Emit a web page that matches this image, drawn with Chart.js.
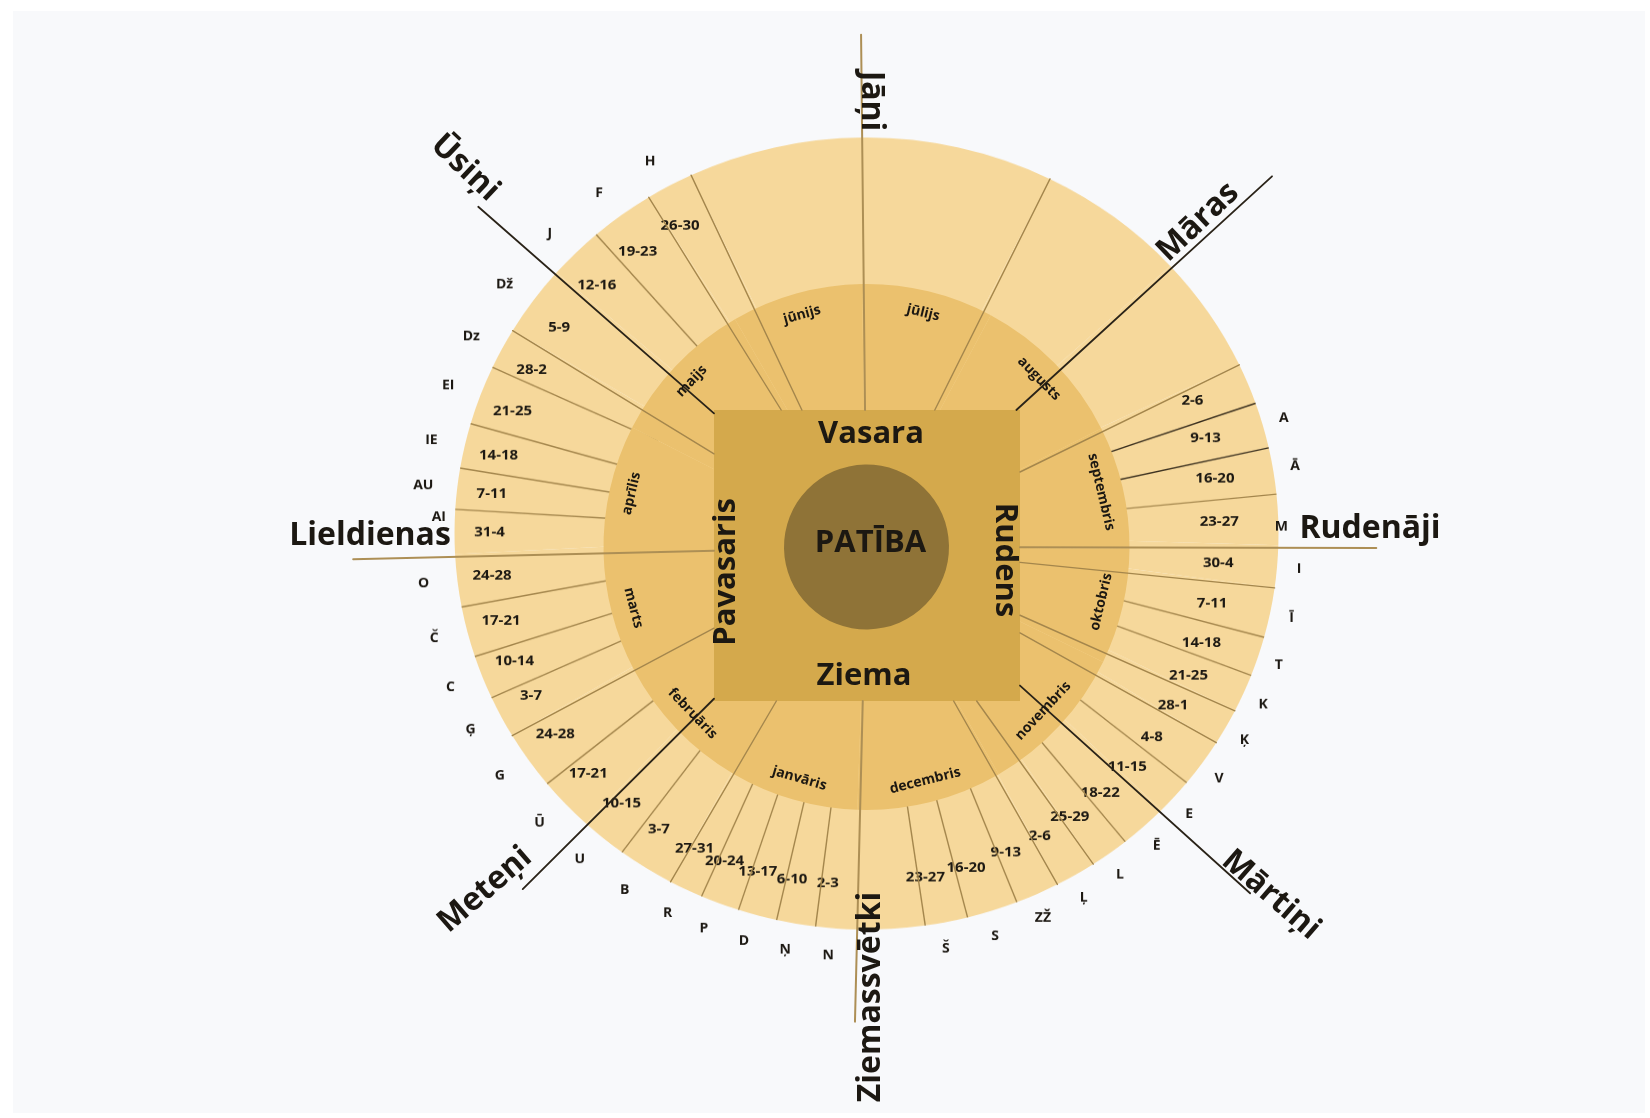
<!DOCTYPE html>
<html>
<head>
<meta charset="utf-8">
<script src="https://cdn.jsdelivr.net/npm/chart.js"></script>
<style>
  html, body { margin: 0; padding: 0; background: #ffffff; }
  body { width: 1650px; height: 1118px; position: relative; overflow: hidden; }
  #bg { position: absolute; left: 13px; top: 11px; width: 1632px; height: 1102px; background: #f8f9fb; }
  #outer { position: absolute; left: 0; top: 0; width: 1650px; height: 1163px; transform: scaleY(0.9612); transform-origin: 0 0; }
  #inner { position: absolute; left: 0; top: 0; width: 1650px; height: 1118px; }
</style>
</head>
<body>
<div id="bg"></div>
<canvas id="outer" width="1650" height="1163"></canvas>
<canvas id="inner" width="1650" height="1118"></canvas>
<script>
// outer ring: week slices, size in degrees, clockwise from the Jāņi line
const weekLabels = ['', '', '', '2-6', '9-13', '16-20', '23-27', '30-4', '7-11', '14-18', '21-25', '28-1',
  '4-8', '11-15', '18-22', '25-29', '2-6', '9-13', '16-20', '23-27', '', '2-3', '6-10', '13-17', '20-24', '27-31',
  '3-7', '10-15', '17-21', '24-28', '3-7', '10-14', '17-21', '24-28', '31-4', '7-11', '14-18', '21-25',
  '28-2', '5-9', '12-16', '19-23', '26-30', ''];
const weekSpans = [27.05, 21.05, 17.3, 6.0, 6.7, 6.8, 7.4, 6.2, 7.3, 5.8, 5.6, 5.3,
  7.1, 5.3, 6.8, 5.5, 5.8, 6.2, 7.2, 6.0, 9.5, 5.8, 5.5, 5.5, 5.5, 4.8,
  8.0, 6.5, 7.9, 8.5, 6.2, 6.4, 7.4, 7.7, 6.5, 6.0, 6.6, 8.7,
  6.0, 10.4, 7.8, 9.1, 6.7, 24.6];
const weekLetters = ['', '', '', '', 'A', 'Ā', 'M', 'I', 'Ī', 'T', 'K', 'Ķ',
  'V', 'E', 'Ē', 'L', 'Ļ', 'ZŽ', 'S', 'Š', '', 'N', 'Ņ', 'D', 'P', 'R',
  'B', 'U', 'Ū', 'G', 'Ģ', 'C', 'Č', 'O', 'AI', 'AU', 'IE', 'EI',
  'Dz', 'Dž', 'J', 'F', 'H', ''];

// middle ring: months, size in degrees, clockwise from the Jāņi line
const months = ['jūlijs', 'augusts', 'septembris', 'oktobris', 'novembris', 'decembris',
  'janvāris', 'februāris', 'marts', 'aprīlis', 'maijs', 'jūnijs'];
const monthSpans = [29.2, 35.0, 27.2, 25.5, 33.9, 32.2, 28.35, 31.75, 26.6, 28.3, 33.0, 29.0];

// feasts sit on the start edge of these week slices
const holidays = ['Jāņi', 'Māras', 'Rudenāji', 'Mārtiņi', 'Ziemassvētki', 'Meteņi', 'Lieldienas', 'Ūsiņi'];
const holidayWeek = [0, 2, 7, 14, 21, 28, 34, 40];
// week edges that run in from the square
const longEdgeWeek = [1, 3, 8, 11, 12, 16, 17, 26, 30, 39, 42, 43];
const darkEdgeWeek = [4, 5];

const seasons = ['Vasara', 'Rudens', 'Ziema', 'Pavasaris'];
const centerLabel = 'PATĪBA';

// look
const SQ = 0.9612; // outer ring is a little flattened
const textColor = '#1c1812';
const lineColor = '#a4864c';
const box = { l: 714, r: 1020, t: 410, b: 701 };
// letters pushed aside so they clear the feast names
const letterNudge = { 6: { r: 421, da: 1 }, 34: { r: 422, da: 2 } };
const holidayLayout = [
  { len: 519, dark: false, x: 862, y: 101, rot: 90, base: 'alphabetic' },
  { len: 550, dark: true, x: 1198, y: 222, rot: -43.5, base: 'middle' },
  { len: 510, dark: false, x: 1370, y: 538, rot: 0, base: 'alphabetic' },
  { len: 536, dark: true, x: 1271, y: 895, rot: 41, base: 'middle' },
  { len: 508, dark: false, x: 880, y: 997, rot: -90, base: 'alphabetic' },
  { len: 505, dark: true, x: 485, y: 890, rot: -41, base: 'middle' },
  { len: 514, dark: false, x: 370, y: 545, rot: 0, base: 'alphabetic' },
  { len: 516, dark: true, x: 465, y: 168, rot: 43.5, base: 'middle' }
];
const seasonLayout = [
  { x: 871, y: 434, rot: 0 },
  { x: 1005, y: 560, rot: 90 },
  { x: 864, y: 676, rot: 0 },
  { x: 726, y: 572, rot: -90 }
];

function drawText(ctx, text, x, y, rotDeg, font, baseline) {
  ctx.save();
  ctx.translate(x, y);
  ctx.rotate(rotDeg * Math.PI / 180);
  ctx.font = font;
  ctx.fillStyle = textColor;
  ctx.textAlign = 'center';
  ctx.textBaseline = baseline || 'middle';
  ctx.fillText(text, 0, 0);
  ctx.restore();
}

const weekPlugin = {
  id: 'weekPlugin',
  afterDatasetsDraw(chart) {
    const ctx = chart.ctx;
    const arcs = chart.getDatasetMeta(0).data;
    ctx.save();
    arcs.forEach((arc, i) => {
      const a = arc.startAngle;
      const R = arc.outerRadius;
      if (!holidayWeek.includes(i) && !longEdgeWeek.includes(i)) {
        ctx.strokeStyle = darkEdgeWeek.includes(i) ? '#3a2f1e' : lineColor;
        ctx.lineWidth = 1.4;
        ctx.beginPath();
        ctx.moveTo(arc.x + 230 * Math.cos(a), arc.y + 230 * Math.sin(a));
        ctx.lineTo(arc.x + R * Math.cos(a), arc.y + R * Math.sin(a));
        ctx.stroke();
      }
      const mid = (arc.startAngle + arc.endAngle) / 2;
      if (weekLabels[i]) {
        drawText(ctx, weekLabels[i], arc.x - 12 + 365 * Math.cos(mid), arc.y + 365 * Math.sin(mid), 0, '700 15px "Open Sans"');
      }
      if (weekLetters[i]) {
        const nudge = letterNudge[i] || { r: 440, da: 0 };
        const la = mid + nudge.da * Math.PI / 180;
        drawText(ctx, weekLetters[i], arc.x - 6 + nudge.r * Math.cos(la), arc.y + nudge.r * Math.sin(la), 0, '700 14px "Open Sans"');
      }
    });
    ctx.restore();
  }
};

const outerChart = new Chart(document.getElementById('outer'), {
  type: 'doughnut',
  data: {
    labels: weekLabels,
    datasets: [{
      data: weekSpans,
      backgroundColor: '#f6d89b',
      borderWidth: 0,
      hoverOffset: 0
    }]
  },
  options: {
    responsive: false,
    animation: false,
    events: [],
    cutout: 0,
    rotation: -0.6,
    layout: { padding: { left: 454.5, right: 371.5, top: 143, bottom: 196 } },
    plugins: { legend: { display: false }, tooltip: { enabled: false } }
  },
  plugins: [weekPlugin]
});

// page point on a week edge of the (flattened) outer ring
function outerPoint(i, r) {
  const arc = outerChart.getDatasetMeta(0).data[i];
  const a = arc.startAngle;
  return { x: arc.x + r * Math.cos(a), y: (arc.y + r * Math.sin(a)) * SQ };
}

// where the ray from the centre to p leaves the square
function squareHit(cx, cy, p) {
  const dx = p.x - cx, dy = p.y - cy;
  const tx = dx > 0 ? (box.r - cx) / dx : dx < 0 ? (box.l - cx) / dx : Infinity;
  const ty = dy > 0 ? (box.b - cy) / dy : dy < 0 ? (box.t - cy) / dy : Infinity;
  const t = Math.min(tx, ty);
  return { x: cx + dx * t, y: cy + dy * t };
}

const innerPlugin = {
  id: 'innerPlugin',
  afterDatasetDraw(chart, args) {
    if (args.index !== 0) return;
    const ctx = chart.ctx;
    ctx.save();
    ctx.fillStyle = '#d4a94c';
    ctx.fillRect(box.l, box.t, box.r - box.l, box.b - box.t);
    ctx.restore();
  },
  afterDatasetsDraw(chart) {
    const ctx = chart.ctx;
    const ring = chart.getDatasetMeta(0).data;
    const cx = ring[0].x, cy = ring[0].y;
    ctx.save();
    ctx.lineCap = 'round';

    // edges that start at the square
    longEdgeWeek.forEach(i => {
      const p = outerPoint(i, 412);
      const s = squareHit(cx, cy, p);
      ctx.strokeStyle = lineColor;
      ctx.lineWidth = 1.4;
      ctx.beginPath();
      ctx.moveTo(s.x, s.y);
      ctx.lineTo(p.x, p.y);
      ctx.stroke();
    });

    // feast lines
    holidays.forEach((h, k) => {
      const lay = holidayLayout[k];
      const p = outerPoint(holidayWeek[k], lay.len);
      const s = squareHit(cx, cy, p);
      ctx.strokeStyle = lay.dark ? '#2a2318' : '#ad8f55';
      ctx.lineWidth = lay.dark ? 1.8 : 2;
      ctx.beginPath();
      ctx.moveTo(s.x, s.y);
      ctx.lineTo(p.x, p.y);
      ctx.stroke();
    });
    ctx.restore();

    // month names along the middle ring
    ring.forEach((arc, i) => {
      const mid = (arc.startAngle + arc.endAngle) / 2;
      let theta = mid + Math.PI / 2;
      while (theta > Math.PI) theta -= 2 * Math.PI;
      while (theta <= -Math.PI) theta += 2 * Math.PI;
      const rot = Math.abs(theta) <= Math.PI / 2 ? theta : theta - Math.sign(theta) * Math.PI;
      drawText(ctx, months[i], arc.x + 241 * Math.cos(mid), arc.y + 241 * Math.sin(mid),
        rot * 180 / Math.PI, '700 14px "Open Sans"');
    });

    seasons.forEach((s, k) => {
      const lay = seasonLayout[k];
      drawText(ctx, s, lay.x, lay.y, lay.rot, '700 31px "Open Sans"');
    });
    const core = chart.getDatasetMeta(1).data[0];
    drawText(ctx, centerLabel, core.x + 4, core.y - 4, 0, '700 31px "Open Sans"');

    holidays.forEach((h, k) => {
      const lay = holidayLayout[k];
      drawText(ctx, h, lay.x, lay.y, lay.rot, '700 32px "Open Sans"', lay.base);
    });
  }
};

new Chart(document.getElementById('inner'), {
  type: 'doughnut',
  data: {
    labels: months,
    datasets: [
      { data: monthSpans, backgroundColor: '#ebc16e', borderWidth: 0, hoverOffset: 0, weight: 180.5, order: 2 },
      { data: [1], backgroundColor: '#8f7337', borderWidth: 0, hoverOffset: 0, weight: 82.5, order: 1 }
    ]
  },
  options: {
    responsive: false,
    animation: false,
    events: [],
    cutout: 0,
    rotation: -1,
    layout: { padding: { left: 603.5, right: 520.5, top: 284, bottom: 308 } },
    plugins: { legend: { display: false }, tooltip: { enabled: false } }
  },
  plugins: [innerPlugin]
});
</script>
</body>
</html>
